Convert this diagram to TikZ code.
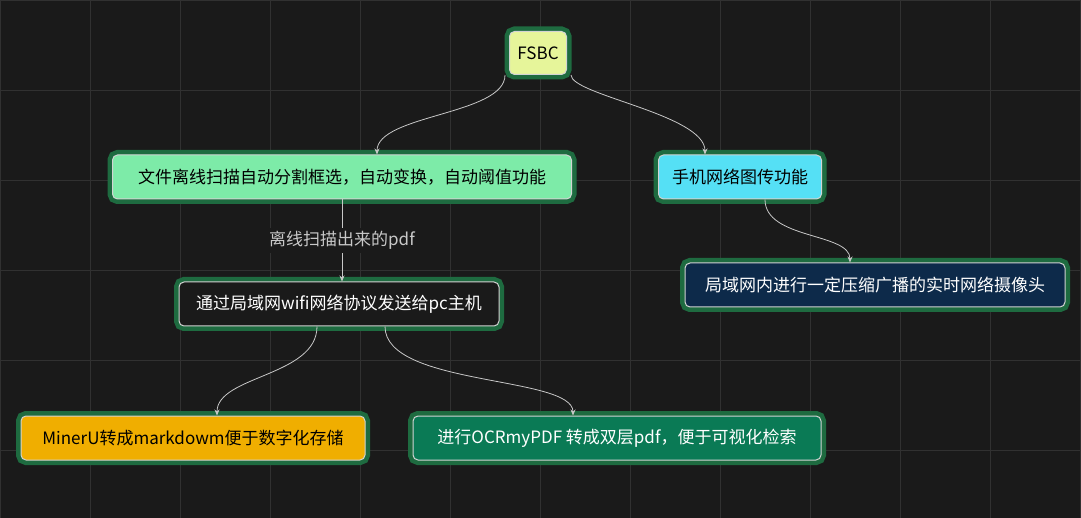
\documentclass[tikz,border=0pt]{standalone}
\usepackage{fontspec}
\setmainfont{Noto Sans CJK SC}
\usetikzlibrary{arrows.meta}
\definecolor{bg}{HTML}{1A1A1A}
\definecolor{ring}{HTML}{1E6B40}
\definecolor{edge}{HTML}{C8C8C8}
\definecolor{cfs}{HTML}{E6F59A}
\definecolor{ca}{HTML}{7DEBA8}
\definecolor{cb}{HTML}{55E0F5}
\definecolor{cc}{HTML}{0D2A4A}
\definecolor{ce}{HTML}{F0AE00}
\definecolor{cf}{HTML}{0A7A55}
\tikzset{
  box/.style={rounded corners=5pt, draw=edge!80, line width=1pt, inner sep=0pt,
    preaction={draw=ring, line width=10pt}, font=\fontsize{17}{20}\selectfont,
    minimum height=44pt},
  conn/.style={draw=edge, line width=0.8pt, -{Stealth[length=6pt,width=5pt]}}
}
\begin{document}
\begin{tikzpicture}[x=1pt,y=-1pt]
\fill[bg] (0,0) rectangle (1081,518);
\useasboundingbox (0,0) rectangle (1081,518);
\draw[color=white!10!bg, line width=0.5pt] (0,0) grid[step=90pt] (1081,518);
\node[box, fill=cfs, minimum width=57pt, minimum height=43pt] (fs) at (538,53) {FSBC};
\node[box, fill=ca, minimum width=459pt] (a) at (342,177) {文件离线扫描自动分割框选，自动变换，自动阈值功能};
\node[box, fill=cb, minimum width=163pt] (b) at (740,177) {手机网络图传功能};
\node[box, fill=cc, text=white, minimum width=380pt] (c) at (875,285) {局域网内进行一定压缩广播的实时网络摄像头};
\node[box, fill=bg, text=white, minimum width=320pt] (d) at (339,304) {通过局域网wifi网络协议发送给pc主机};
\node[box, fill=ce, minimum width=344pt] (e) at (193,438) {MinerU转成markdowm便于数字化存储};
\node[box, fill=cf, text=white, minimum width=408pt] (f) at (617,438) {进行OCRmyPDF 转成双层pdf，便于可视化检索};
\path[conn] ([xshift=-33pt]fs.south) .. controls +(0,40) and +(0,-40) .. ([xshift=35pt]a.north);
\path[conn] ([xshift=33pt]fs.south) .. controls +(0,20) and +(0,-40) .. ([xshift=-35pt]b.north);
\path[conn] ([xshift=25pt]b.south) .. controls +(0,40) and +(0,-30) .. ([xshift=-25pt]c.north);
\path[conn] (a.south) -- node[fill=bg, text=edge, font=\fontsize{17}{20}\selectfont, inner sep=3pt] {离线扫描出来的pdf} (a.south|-d.north);
\path[conn] ([xshift=-22pt]d.south) .. controls +(0,50) and +(0,-40) .. ([xshift=24pt]e.north);
\path[conn] ([xshift=46pt]d.south) .. controls +(0,60) and +(0,-40) .. ([xshift=-44pt]f.north);
\end{tikzpicture}
\end{document}
